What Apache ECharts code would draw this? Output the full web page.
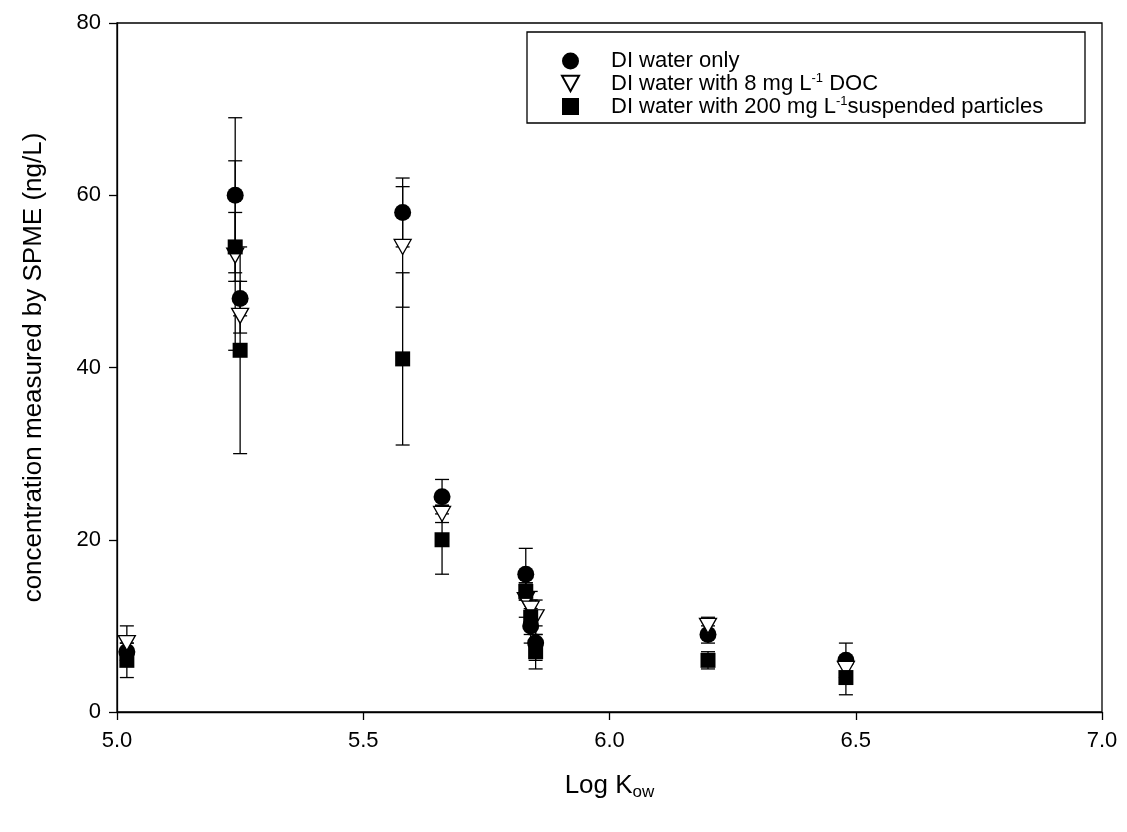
<!DOCTYPE html>
<html>
<head>
<meta charset="utf-8">
<script src="https://cdn.jsdelivr.net/npm/echarts@6/dist/echarts.min.js"></script>
<style>
  html, body { margin: 0; padding: 0; background: #fff; }
  #chart { width: 1127px; height: 832px; }
</style>
</head>
<body>
<div id="chart"></div>
<script>
// log Kow of each compound
const kow = [5.02, 5.24, 5.25, 5.58, 5.66, 5.83, 5.84, 5.85, 6.2, 6.48];
// concentration measured by SPME (ng/L) and its error
const diOnly = [7, 60, 48, 58, 25, 16, 10, 8, 9, 6];
const diOnlyErr = [1, 9, 2, 4, 2, 3, 2, 2, 1, 2];
const withDoc = [8, 53, 46, 54, 23, 13, 12, 11, 10, 5];
const withDocErr = [2, 11, 2, 7, 1, 2, 2, 2, 1, 1];
const withParticles = [6, 54, 42, 41, 20, 14, 11, 7, 6, 4];
const withParticlesErr = [2, 4, 12, 10, 4, 1, 2, 2, 1, 2];
const yTicks = [0, 20, 40, 60, 80];

const names = [
  'DI water only',
  'DI water with 8 mg L-1 DOC',
  'DI water with 200 mg L-1 suspended particles'
];

const chart = echarts.init(document.getElementById('chart'));

const pts = (ys, errs) => kow.map((x, i) => [x, ys[i], errs[i]]);

// error bar: vertical line with caps
function errBar(params, api) {
  const x = api.value(0), y = api.value(1), e = api.value(2);
  const top = api.coord([x, y + e]);
  const bot = api.coord([x, y - e]);
  const hw = 7;
  const st = { stroke: '#000', lineWidth: 1.3 };
  return {
    type: 'group',
    children: [
      { type: 'line', shape: { x1: top[0], y1: top[1], x2: bot[0], y2: bot[1] }, style: st },
      { type: 'line', shape: { x1: top[0] - hw, y1: top[1], x2: top[0] + hw, y2: top[1] }, style: st },
      { type: 'line', shape: { x1: bot[0] - hw, y1: bot[1], x2: bot[0] + hw, y2: bot[1] }, style: st }
    ]
  };
}

const triPath = 'path://M0,0 L10,0 L5,9 Z';

const option = {
  animation: false,
  backgroundColor: '#fff',
  textStyle: { fontFamily: 'Liberation Sans, Arial, sans-serif' },
  grid: { left: 117, right: 25, top: 23, bottom: 120, show: true, borderColor: '#000', borderWidth: 1.3, backgroundColor: 'transparent' },
  legend: {
    data: names,
    orient: 'vertical',
    left: 561,
    top: 50,
    itemGap: 0,
    itemWidth: 17,
    itemHeight: 17,
    padding: [0, 0, 0, 0],
    textStyle: {
      fontSize: 22,
      color: '#000',
      padding: [0, 0, 0, 27],
      rich: {
        t: { fontSize: 22, color: '#000', lineHeight: 23 },
        sup: { fontSize: 13, color: '#000', verticalAlign: 'top', lineHeight: 23, padding: [0, 0, 10, 0] }
      }
    },
    formatter: function (n) {
      if (n === names[0]) return '{t|DI water only}';
      if (n === names[1]) return '{t|DI water with 8 mg L}{sup|-1}{t| DOC}';
      return '{t|DI water with 200 mg L}{sup|-1}{t|suspended particles}';
    }
  },
  graphic: [{
    type: 'rect',
    shape: { x: 527, y: 32, width: 558, height: 91 },
    style: { fill: 'none', stroke: '#000', lineWidth: 1.3 },
    z: 10
  }],
  xAxis: {
    type: 'value',
    min: 5.0,
    max: 7.0,
    interval: 0.5,
    name: '{a|Log K}{b|ow}',
    nameLocation: 'middle',
    nameGap: 58,
    nameTextStyle: {
      rich: {
        a: { fontSize: 26, color: '#000' },
        b: { fontSize: 17, color: '#000', verticalAlign: 'bottom', padding: [14, 0, 0, 0] }
      }
    },
    axisLine: { lineStyle: { color: '#000', width: 1.3 } },
    axisTick: { show: true, inside: false, length: 8, lineStyle: { color: '#000', width: 1.3 } },
    axisLabel: { fontSize: 22, color: '#000', margin: 18, formatter: v => v.toFixed(1) },
    splitLine: { show: false }
  },
  yAxis: {
    type: 'value',
    min: yTicks[0],
    max: yTicks[yTicks.length - 1],
    interval: 20,
    name: 'concentration measured by SPME (ng/L)',
    nameLocation: 'middle',
    nameGap: 70,
    nameTextStyle: { fontSize: 26, color: '#000' },
    axisLine: { show: true, lineStyle: { color: '#000', width: 1.3 } },
    axisTick: { show: true, inside: false, length: 8, lineStyle: { color: '#000', width: 1.3 } },
    axisLabel: { fontSize: 22, color: '#000', margin: 16 },
    splitLine: { show: false }
  },
  series: [
    { type: 'custom', renderItem: errBar, data: pts(diOnly, diOnlyErr), z: 1, silent: true },
    { type: 'custom', renderItem: errBar, data: pts(withDoc, withDocErr), z: 1, silent: true },
    { type: 'custom', renderItem: errBar, data: pts(withParticles, withParticlesErr), z: 1, silent: true },
    {
      name: names[0], type: 'scatter', z: 3,
      symbol: 'circle', symbolSize: 17,
      itemStyle: { color: '#000', opacity: 1 },
      data: kow.map((x, i) => [x, diOnly[i]])
    },
    {
      name: names[1], type: 'scatter', z: 4,
      symbol: triPath, symbolSize: [17, 15],
      itemStyle: { color: '#fff', borderColor: '#000', borderWidth: 1.3, opacity: 1 },
      data: kow.map((x, i) => [x, withDoc[i]])
    },
    {
      name: names[2], type: 'scatter', z: 5,
      symbol: 'rect', symbolSize: 15,
      itemStyle: { color: '#000', opacity: 1 },
      data: kow.map((x, i) => [x, withParticles[i]])
    }
  ]
};

chart.setOption(option);
</script>
</body>
</html>
